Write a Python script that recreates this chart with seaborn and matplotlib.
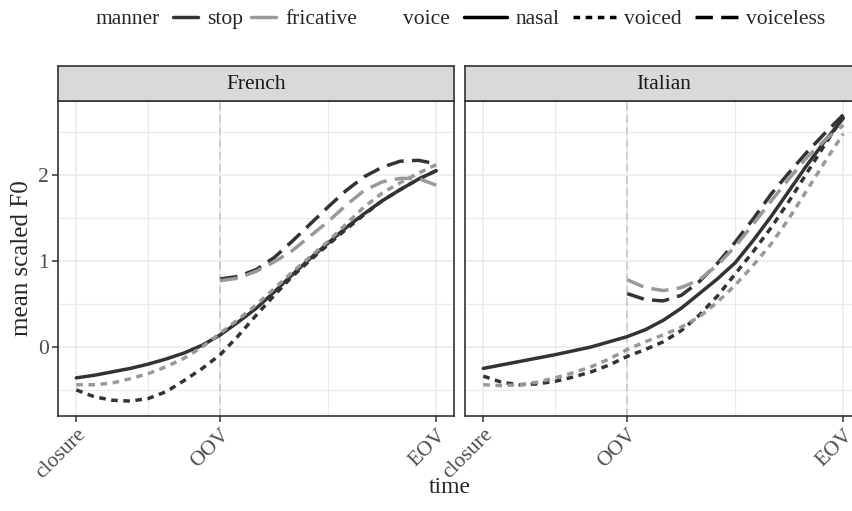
import numpy as np
import pandas as pd
import seaborn as sns
import matplotlib.pyplot as plt
from matplotlib.lines import Line2D

sns.set_style("white")
plt.rcParams['font.family'] = ['Liberation Serif', 'DejaVu Serif']

# time axis: closure, OOV, EOV
TIME_TICKS = [0.0, 1.0, 2.5]
TIME_LABELS = ["closure", "OOV", "EOV"]
X_FULL = [0.0, 0.125, 0.25, 0.375, 0.5, 0.625, 0.75, 0.875, 1.0, 1.125, 1.25,
          1.375, 1.5, 1.625, 1.75, 1.875, 2.0, 2.125, 2.25, 2.375, 2.5]
X_LATE = [1.0, 1.125, 1.25, 1.375, 1.5, 1.625, 1.75, 1.875, 2.0, 2.125, 2.25, 2.375, 2.5]

LANGS = ["French", "Italian"]
MANNERS = ["stop", "fricative"]
VOICES = ["nasal", "voiced", "voiceless"]

# French
FR_STOP_NASAL = [-0.36, -0.33, -0.29, -0.25, -0.20, -0.14, -0.07, 0.02, 0.14, 0.29, 0.45,
                 0.64, 0.84, 1.03, 1.21, 1.39, 1.55, 1.70, 1.83, 1.95, 2.05]
FR_STOP_VOICED = [-0.50, -0.58, -0.62, -0.63, -0.60, -0.52, -0.39, -0.25, -0.09, 0.13, 0.37,
                  0.60, 0.82, 1.01, 1.19, 1.37, 1.54, 1.70, 1.83, 1.95, 2.05]
FR_FRIC_VOICED = [-0.44, -0.44, -0.42, -0.37, -0.31, -0.23, -0.13, 0.00, 0.16, 0.32, 0.49,
                  0.68, 0.87, 1.05, 1.23, 1.43, 1.63, 1.79, 1.91, 2.02, 2.12]
FR_STOP_VOICELESS = [0.79, 0.82, 0.90, 1.04, 1.23, 1.43, 1.63, 1.82, 1.98, 2.09, 2.16, 2.17, 2.13]
FR_FRIC_VOICELESS = [0.77, 0.80, 0.88, 0.99, 1.12, 1.29, 1.46, 1.65, 1.82, 1.92, 1.96, 1.96, 1.88]

# Italian
IT_STOP_NASAL = [-0.25, -0.21, -0.17, -0.13, -0.09, -0.045, 0.00, 0.06, 0.12, 0.20, 0.31,
                 0.45, 0.62, 0.79, 0.98, 1.24, 1.52, 1.82, 2.12, 2.40, 2.66]
IT_STOP_VOICED = [-0.34, -0.41, -0.44, -0.43, -0.40, -0.35, -0.29, -0.21, -0.11, -0.03, 0.06,
                  0.19, 0.37, 0.59, 0.85, 1.11, 1.39, 1.70, 2.03, 2.36, 2.68]
IT_FRIC_VOICED = [-0.44, -0.45, -0.44, -0.41, -0.36, -0.30, -0.23, -0.14, -0.03, 0.06, 0.14,
                  0.23, 0.35, 0.52, 0.72, 0.95, 1.20, 1.50, 1.83, 2.16, 2.48]
IT_STOP_VOICELESS = [0.62, 0.55, 0.535, 0.60, 0.76, 0.97, 1.22, 1.49, 1.78, 2.03, 2.27, 2.49, 2.70]
IT_FRIC_VOICELESS = [0.78, 0.69, 0.655, 0.69, 0.78, 0.95, 1.17, 1.43, 1.70, 1.96, 2.21, 2.41, 2.58]

SERIES = [
    ("French", "stop", "nasal", X_FULL, FR_STOP_NASAL),
    ("French", "stop", "voiced", X_FULL, FR_STOP_VOICED),
    ("French", "fricative", "voiced", X_FULL, FR_FRIC_VOICED),
    ("French", "stop", "voiceless", X_LATE, FR_STOP_VOICELESS),
    ("French", "fricative", "voiceless", X_LATE, FR_FRIC_VOICELESS),
    ("Italian", "stop", "nasal", X_FULL, IT_STOP_NASAL),
    ("Italian", "stop", "voiced", X_FULL, IT_STOP_VOICED),
    ("Italian", "fricative", "voiced", X_FULL, IT_FRIC_VOICED),
    ("Italian", "stop", "voiceless", X_LATE, IT_STOP_VOICELESS),
    ("Italian", "fricative", "voiceless", X_LATE, IT_FRIC_VOICELESS),
]

rows = []
for lang, manner, voice, xs, ys in SERIES:
    for x, y in zip(xs, ys):
        rows.append({"language": lang, "manner": manner, "voice": voice, "time": x, "f0": y})
df = pd.DataFrame(rows)

PALETTE = {"stop": "#333333", "fricative": "#999999"}
DASHES = {"nasal": "", "voiced": (1.9, 1.6), "voiceless": (5.0, 2.4)}
LW = 2.5
BORDER = "#333333"
FS = 15.5

fig = plt.figure(figsize=(8.53, 5.11), dpi=100)
W, H = 853, 511
panel_w = 396 / W
panel_h = 314.7 / H
bottom = 95.3 / H
lefts = [58.3 / W, 465.3 / W]

for i, lang in enumerate(LANGS):
    ax = fig.add_axes([lefts[i], bottom, panel_w, panel_h])
    ax.set_xlim(-0.125, 2.625)
    ax.set_ylim(-0.80, 2.86)

    # grid
    ax.set_xticks(TIME_TICKS)
    ax.set_xticks([0.5, 1.75], minor=True)
    ax.set_yticks([0, 1, 2])
    ax.set_yticks([-0.5, 0.5, 1.5, 2.5], minor=True)
    ax.grid(which="major", color="#EBEBEB", lw=1.2, zorder=0)
    ax.grid(which="minor", color="#EBEBEB", lw=0.9, zorder=0)
    ax.set_axisbelow(True)

    ax.axvline(1.0, color="#C4C4C4", lw=1.1, ls=(0, (5, 3)), zorder=1)

    sns.lineplot(data=df[df["language"] == lang], x="time", y="f0",
                 hue="manner", style="voice", hue_order=MANNERS, style_order=VOICES,
                 palette=PALETTE, dashes=DASHES, lw=LW, errorbar=None,
                 legend=False, ax=ax)
    for ln in ax.get_lines():
        ln.set_solid_joinstyle("round")
        ln.set_dash_joinstyle("round")

    ax.set_xlabel("")
    ax.set_ylabel("")
    ax.set_xticklabels(TIME_LABELS, rotation=45, ha="right", rotation_mode="anchor")
    ax.tick_params(which="major", length=4, width=1.1, color=BORDER,
                   labelcolor="#4D4D4D", labelsize=FS, pad=3)
    ax.tick_params(axis="x", bottom=True)
    ax.tick_params(which="minor", length=0)
    if i == 0:
        ax.tick_params(axis="y", left=True)
    else:
        ax.tick_params(axis="y", left=False, labelleft=False)
    for sp in ax.spines.values():
        sp.set_color(BORDER)
        sp.set_linewidth(1.2)

    # facet strip
    sax = fig.add_axes([lefts[i], 1 - 101 / H, panel_w, 35 / H])
    sax.set_facecolor("#D9D9D9")
    sax.set_xticks([])
    sax.set_yticks([])
    for sp in sax.spines.values():
        sp.set_color(BORDER)
        sp.set_linewidth(1.2)
    sax.text(0.5, 0.47, lang, transform=sax.transAxes, ha="center", va="center",
             fontsize=FS, color="#1A1A1A")

fig.text(22 / W, 1 - 258 / H, "mean scaled F0", rotation=90, ha="center", va="center", fontsize=18)
fig.text(450 / W, 1 - 487 / H, "time", ha="center", va="center", fontsize=17)

# legends on top
ly = 1 - 19 / H
fig.text(96 / W, ly, "manner", ha="left", va="center", fontsize=FS)
manner_handles = [Line2D([], [], color=PALETTE[m], lw=LW) for m in MANNERS]
fig.legend(manner_handles, MANNERS, loc="center left", bbox_to_anchor=(173 / W, ly),
           ncol=2, frameon=False, fontsize=FS, handlelength=1.16, handletextpad=0.42,
           columnspacing=0.37, borderpad=0, borderaxespad=0)

fig.text(403 / W, ly, "voice", ha="left", va="center", fontsize=FS)
voice_handles = []
for v in VOICES:
    h = Line2D([], [], color="black", lw=LW)
    if DASHES[v]:
        h.set_dashes(DASHES[v])
    voice_handles.append(h)
fig.legend(voice_handles, VOICES, loc="center left", bbox_to_anchor=(464 / W, ly),
           ncol=3, frameon=False, fontsize=FS, handlelength=2.0, handletextpad=0.4,
           columnspacing=0.6, borderpad=0, borderaxespad=0)

fig.savefig("out.png", dpi=100)
